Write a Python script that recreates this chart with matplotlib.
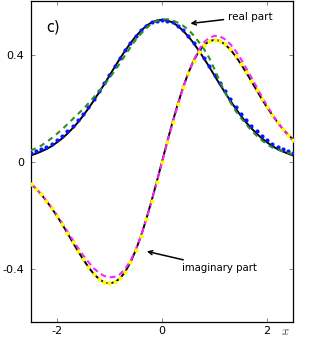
import numpy as np
import matplotlib
matplotlib.use('Agg')
import matplotlib.pyplot as plt

plt.rcParams['axes.unicode_minus'] = False
plt.rcParams['mathtext.fontset'] = 'cm'

# sample positions (x)
x = np.linspace(-2.5, 2.5, 51)

# real part
real_exact = [0.023, 0.030, 0.038, 0.047, 0.058, 0.072, 0.087, 0.105, 0.125, 0.147,
              0.172, 0.199, 0.228, 0.258, 0.289, 0.321, 0.354, 0.385, 0.415, 0.443,
              0.468, 0.489, 0.507, 0.520, 0.527, 0.530, 0.527, 0.520, 0.507, 0.489,
              0.468, 0.443, 0.415, 0.385, 0.354, 0.321, 0.289, 0.258, 0.228, 0.199,
              0.172, 0.147, 0.125, 0.105, 0.087, 0.072, 0.058, 0.047, 0.038, 0.030, 0.023]
real_dots = [0.033, 0.039, 0.047, 0.056, 0.067, 0.080, 0.096, 0.113, 0.133, 0.155,
             0.179, 0.205, 0.233, 0.263, 0.294, 0.325, 0.357, 0.388, 0.417, 0.444,
             0.469, 0.490, 0.507, 0.520, 0.527, 0.530, 0.527, 0.520, 0.507, 0.490,
             0.469, 0.444, 0.417, 0.388, 0.357, 0.325, 0.294, 0.263, 0.233, 0.205,
             0.179, 0.155, 0.133, 0.113, 0.096, 0.080, 0.067, 0.056, 0.047, 0.039, 0.033]
real_dash = [0.042, 0.050, 0.060, 0.073, 0.088, 0.104, 0.121, 0.140, 0.159, 0.178,
             0.197, 0.218, 0.240, 0.263, 0.287, 0.312, 0.340, 0.368, 0.398, 0.428,
             0.455, 0.478, 0.499, 0.515, 0.526, 0.531, 0.532, 0.528, 0.519, 0.508,
             0.493, 0.472, 0.447, 0.420, 0.387, 0.345, 0.300, 0.258, 0.222, 0.190,
             0.164, 0.140, 0.117, 0.097, 0.080, 0.064, 0.053, 0.045, 0.038, 0.032, 0.027]

# imaginary part
imag_exact = [-0.082, -0.101, -0.122, -0.147, -0.174, -0.203, -0.234, -0.267, -0.301, -0.334,
              -0.365, -0.394, -0.419, -0.438, -0.451, -0.455, -0.450, -0.436, -0.411, -0.376,
              -0.331, -0.277, -0.215, -0.147, -0.075, 0.0, 0.075, 0.147, 0.215, 0.277,
              0.331, 0.376, 0.411, 0.436, 0.450, 0.455, 0.451, 0.438, 0.419, 0.394,
              0.365, 0.334, 0.301, 0.267, 0.234, 0.203, 0.174, 0.147, 0.122, 0.101, 0.082]
imag_dots = [-0.082, -0.101, -0.122, -0.147, -0.174, -0.203, -0.234, -0.267, -0.301, -0.334,
             -0.365, -0.394, -0.419, -0.438, -0.451, -0.455, -0.450, -0.436, -0.411, -0.376,
             -0.331, -0.277, -0.215, -0.147, -0.075, 0.0, 0.075, 0.147, 0.215, 0.277,
             0.331, 0.376, 0.411, 0.436, 0.450, 0.455, 0.451, 0.438, 0.419, 0.394,
             0.365, 0.334, 0.301, 0.267, 0.234, 0.203, 0.174, 0.147, 0.122, 0.101, 0.082]
imag_dash = [-0.082, -0.100, -0.121, -0.145, -0.171, -0.199, -0.229, -0.260, -0.292, -0.322,
             -0.350, -0.375, -0.398, -0.415, -0.427, -0.432, -0.430, -0.420, -0.400, -0.370,
             -0.329, -0.277, -0.216, -0.149, -0.077, -0.003, 0.071, 0.143, 0.211, 0.274,
             0.330, 0.378, 0.417, 0.446, 0.463, 0.470, 0.468, 0.457, 0.439, 0.414,
             0.384, 0.350, 0.315, 0.279, 0.243, 0.209, 0.177, 0.148, 0.121, 0.097, 0.076]

xticks = [-2, 0, 2]
yticks = [-0.4, 0, 0.4]
yticklabels = ['-0.4', '0', '0.4']

fig = plt.figure(figsize=(3.22, 3.38), dpi=100)
ax = fig.add_axes([0.0953, 0.0464, 0.8157, 0.9506])

# real part
ax.plot(x, real_exact, color='black', lw=1.4, zorder=2)
ax.plot(x, real_dots, ls='none', marker='o', ms=3.0, mfc='#0a14ff', mec='none', zorder=3)
ax.plot(x, real_dash, color='#2a8f22', lw=1.5, ls=(0, (2.6, 2.2)), zorder=4)

# imaginary part
ax.plot(x, imag_exact, color='black', lw=1.4, zorder=2)
ax.plot(x, imag_dash, color='#ff22ff', lw=1.5, ls=(0, (2.8, 1.8)), zorder=3)
ax.plot(x, imag_dots, ls='none', marker='o', ms=3.1, mfc='#ffff00', mec='none', zorder=4)

ax.set_xlim(-2.5, 2.5)
ax.set_ylim(-0.6, 0.6)
ax.set_xticks(xticks)
ax.set_xticklabels([str(t) for t in xticks])
ax.set_yticks(yticks)
ax.set_yticklabels(yticklabels)
ax.tick_params(direction='in', length=3, width=0.6, color='0.45',
               top=True, right=True, labelsize=8)
ax.tick_params(axis='y', pad=4.5)
ax.tick_params(axis='x', pad=2.5)
for s in ax.spines.values():
    s.set_linewidth(0.9)

ax.text(0.085, 0.92, 'c)', transform=ax.transAxes, fontsize=10.5,
        ha='center', va='center')
ax.annotate('$x$', xy=(1, 0), xycoords='axes fraction', xytext=(-5.5, -6.5),
            textcoords='offset points', fontsize=9, ha='center', va='center',
            color='0.25')

ax.annotate('real part', xy=(0.54, 0.516), xytext=(1.25, 0.542),
            fontsize=7.5, ha='left', va='center',
            arrowprops=dict(arrowstyle='->', lw=1.1, color='black',
                            shrinkA=1, shrinkB=0))
ax.annotate('imaginary part', xy=(-0.29, -0.335), xytext=(0.38, -0.398),
            fontsize=7.3, ha='left', va='center',
            arrowprops=dict(arrowstyle='->', lw=1.1, color='black',
                            shrinkA=2, shrinkB=0))

fig.savefig('out.png', dpi=100)
